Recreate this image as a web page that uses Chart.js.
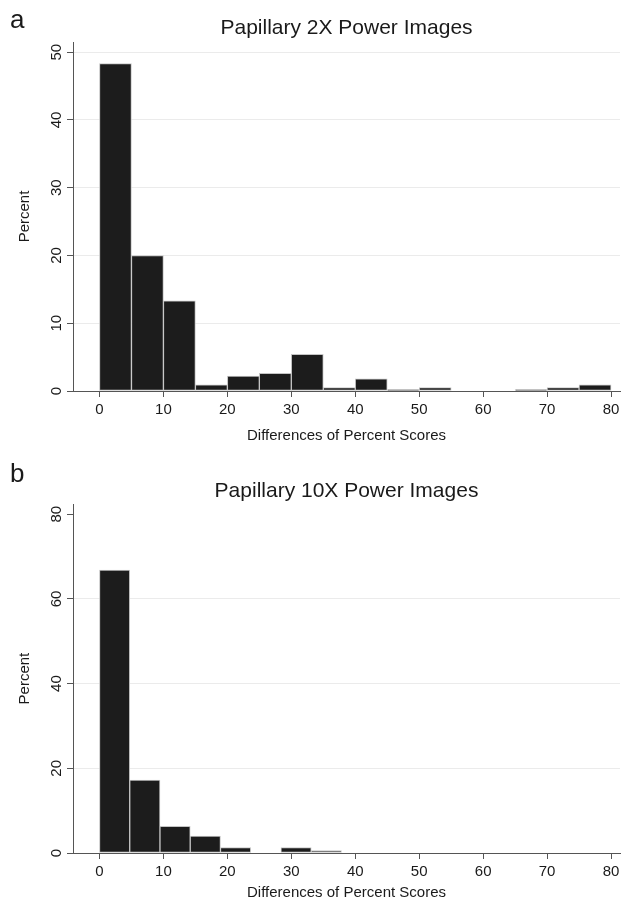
<!DOCTYPE html>
<html>
<head>
<meta charset="utf-8">
<title>Papillary Power Images</title>
<script src="https://cdn.jsdelivr.net/npm/chart.js@4.4.1/dist/chart.umd.min.js"></script>
<style>
  body { margin: 0; background: #fff; }
  .panel { position: absolute; left: 0; width: 633px; height: 452px; }
  #panelA { top: 0; }
  #panelB { top: 452px; }
</style>
</head>
<body>
<div class="panel" id="panelA"><canvas id="chartA" width="633" height="452"></canvas></div>
<div class="panel" id="panelB"><canvas id="chartB" width="633" height="452"></canvas></div>
<script>
// Histogram bins (edges) and bar heights in percent
const binEdgesA = [0, 5, 10, 15, 20, 25, 30, 35, 40, 45, 50, 55, 60, 65, 70, 75, 80];
const percentA = [48.3, 20.0, 13.3, 0.9, 2.2, 2.6, 5.4, 0.5, 1.8, 0.2, 0.5, null, null, 0.2, 0.5, 0.9];

const binEdgesB = [0, 4.73, 9.46, 14.19, 18.92, 23.65, 28.38, 33.11, 37.84];
const percentB = [66.8, 17.2, 6.3, 4.0, 1.3, null, 1.3, 0.6];

const xTicks = [0, 10, 20, 30, 40, 50, 60, 70, 80];
const yTicksA = [0, 10, 20, 30, 40, 50];
const yTicksB = [0, 20, 40, 60, 80];

const FONT = '"Liberation Sans", Arial, sans-serif';
const TEXT = '#1a1a1a';
const AXIS = '#555';

// draws the panel letter and the rotated y tick labels (Stata style)
const stataExtras = {
  id: 'stataExtras',
  afterDraw(chart, args, opts) {
    const ctx = chart.ctx;
    const y = chart.scales.y;
    ctx.save();
    ctx.fillStyle = TEXT;
    ctx.font = '15px ' + FONT;
    ctx.textAlign = 'center';
    ctx.textBaseline = 'middle';
    opts.yTicks.forEach(v => {
      ctx.save();
      ctx.translate(57, y.getPixelForValue(v));
      ctx.rotate(-Math.PI / 2);
      ctx.fillText(String(v), 0, 0);
      ctx.restore();
    });
    ctx.font = '26px ' + FONT;
    ctx.textAlign = 'left';
    ctx.textBaseline = 'alphabetic';
    ctx.fillText(opts.letter, 10, opts.letterY);
    ctx.restore();
  }
};

function makeHist(id, cfg) {
  const points = cfg.values.map((v, i) => ({
    x: (cfg.edges[i] + cfg.edges[i + 1]) / 2,
    y: v
  }));

  return new Chart(document.getElementById(id), {
    type: 'bar',
    data: {
      datasets: [{
        data: points,
        backgroundColor: '#1c1c1c',
        borderColor: '#c4c4c4',
        borderWidth: 1,
        borderSkipped: false,
        barPercentage: 1,
        categoryPercentage: 1
      }]
    },
    options: {
      responsive: false,
      animation: false,
      layout: { padding: { left: 0, right: 13, top: 0, bottom: 0 } },
      plugins: {
        legend: { display: false },
        tooltip: { enabled: false },
        title: {
          display: true,
          text: cfg.title,
          fullSize: false,
          color: TEXT,
          font: { family: FONT, size: 21, weight: 'normal' },
          padding: cfg.titlePadding
        },
        stataExtras: { yTicks: cfg.yTicks, letter: cfg.letter, letterY: cfg.letterY }
      },
      scales: {
        x: {
          type: 'linear',
          offset: false,
          min: -4.14,
          max: 81.4,
          afterBuildTicks: s => { s.ticks = xTicks.map(v => ({ value: v })); },
          afterFit: s => { s.height = cfg.xHeight; },
          grid: { offset: false, drawOnChartArea: false, tickLength: 6, tickColor: AXIS },
          border: { display: true, color: AXIS, width: 1 },
          ticks: { color: TEXT, font: { family: FONT, size: 15 }, padding: 4, maxRotation: 0 },
          title: {
            display: true,
            text: 'Differences of Percent Scores',
            color: TEXT,
            font: { family: FONT, size: 15 },
            padding: { top: 0, bottom: cfg.xTitlePad }
          }
        },
        y: {
          min: 0,
          max: cfg.yMax,
          afterBuildTicks: s => { s.ticks = cfg.yTicks.map(v => ({ value: v })); },
          afterFit: s => { s.width = 73; },
          grid: {
            color: c => (c.tick && (c.tick.value === 0 || c.tick.value === cfg.noGridAt)) ? 'rgba(0,0,0,0)' : '#ebebeb',
            tickLength: 6,
            tickColor: AXIS
          },
          border: { display: true, color: AXIS, width: 1 },
          ticks: { display: false },
          title: {
            display: true,
            text: 'Percent',
            color: TEXT,
            font: { family: FONT, size: 15 },
            padding: { top: 16, bottom: 0 }
          }
        }
      }
    },
    plugins: [stataExtras]
  });
}

makeHist('chartA', {
  edges: binEdgesA, values: percentA, yTicks: yTicksA, yMax: 51.5,
  title: 'Papillary 2X Power Images', titlePadding: { top: 16, bottom: 0.8 },
  xHeight: 61, xTitlePad: 7, letter: 'a', letterY: 28, noGridAt: null
});

makeHist('chartB', {
  edges: binEdgesB, values: percentB, yTicks: yTicksB, yMax: 82.36,
  title: 'Papillary 10X Power Images', titlePadding: { top: 27, bottom: 0 },
  xHeight: 51, xTitlePad: 2, letter: 'b', letterY: 30, noGridAt: 80
});
</script>
</body>
</html>
